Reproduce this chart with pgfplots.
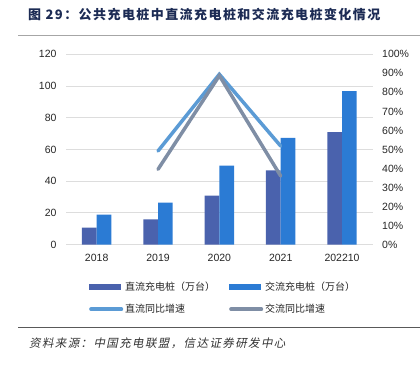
\documentclass[border=0pt]{standalone}
\usepackage{pgfplots}
\pgfplotsset{compat=1.18}
\usepackage{fontspec}
\setmainfont{Liberation Sans}
\newfontfamily\cjk{Noto Sans CJK SC}
\newfontfamily\cjkt{Noto Sans CJK SC}[LetterSpace=11]
\newfontfamily\cjkit{Noto Sans CJK SC}[FakeSlant=0.2,LetterSpace=12]
\definecolor{dcbar}{HTML}{4A62AD}
\definecolor{acbar}{HTML}{2B7BD4}
\definecolor{dcline}{HTML}{5B9BD5}
\definecolor{acline}{HTML}{7F8EA5}
\definecolor{gridc}{HTML}{DDDDDD}
\definecolor{titlec}{HTML}{1C2B54}
\begin{document}
\begin{tikzpicture}
\path[use as bounding box] (0,0) rectangle (420pt,-364pt);
\node[anchor=west, font=\cjkt\bfseries\fontsize{13}{16}\selectfont, text=titlec, inner sep=0] at (28pt,-15pt) {图 29：公共充电桩中直流充电桩和交流充电桩变化情况};
\draw[color=black!35, line width=1.3pt] (18pt,-35.5pt) -- (420pt,-35.5pt);
\draw[color=black!65, line width=1pt] (18pt,-327.3pt) -- (420pt,-327.3pt);
\node[anchor=west, font=\cjkit\fontsize{11.5}{14}\selectfont, text=black!80, inner sep=0] at (29pt,-343pt) {资料来源：中国充电联盟，信达证券研发中心};
\begin{axis}[
  at={(66pt,-244.7pt)}, anchor=south west,
  scale only axis, width=306.7pt, height=190.4pt,
  xmin=-0.5, xmax=4.5, ymin=0, ymax=120,
  ytick={0,20,...,120},
  xtick={0,1,2,3,4}, xticklabels={2018,2019,2020,2021,202210},
  axis line style={draw=none},
  major tick length=0pt,
  ymajorgrids, grid style={gridc, line width=1pt},
  /pgf/number format/assume math mode=true,
  tick label style={font=\fontsize{10.5}{12}\selectfont, text=black!85},
  yticklabel style={xshift=-6pt},
  xticklabel style={yshift=-6pt},
  ybar=0pt, bar width=14.7pt,
  legend columns=2,
  legend style={draw=none, fill=none, inner sep=0pt,
    at={(axis description cs:0.075,-0.185)}, anchor=north west,
    row sep=8pt,
    /tikz/every even column/.append style={column sep=12pt}},
  legend cell align=left,
  legend style={font=\cjk\fontsize{10}{12}\selectfont, text=black!85},
]
\addplot[fill=dcbar, draw=none,
  legend image code/.code={\fill[dcbar] (0pt,-3pt) rectangle (32pt,3pt);}]
  coordinates {(0,10.7) (1,16.0) (2,30.9) (3,46.9) (4,71.0)};
\addlegendentry{直流充电桩（万台）}
\addplot[fill=acbar, draw=none,
  legend image code/.code={\fill[acbar] (0pt,-3pt) rectangle (32pt,3pt);}]
  coordinates {(0,18.9) (1,26.5) (2,49.8) (3,67.4) (4,96.8)};
\addlegendentry{交流充电桩（万台）}
\addlegendimage{legend image code/.code={\draw[dcline, line width=3.5pt, line cap=round] (1.5pt,0pt) -- (32pt,0pt);}}
\addlegendentry{直流同比增速}
\addlegendimage{legend image code/.code={\draw[acline, line width=3.5pt, line cap=round] (1.5pt,0pt) -- (32pt,0pt);}}
\addlegendentry{交流同比增速}
\end{axis}
\begin{axis}[
  at={(66pt,-244.7pt)}, anchor=south west,
  scale only axis, width=306.7pt, height=190.4pt,
  xmin=-0.5, xmax=4.5, ymin=0, ymax=100,
  axis y line*=right, hide x axis,
  axis line style={draw=none},
  major tick length=0pt,
  ytick={0,10,...,100},
  yticklabels={0\%,10\%,20\%,30\%,40\%,50\%,60\%,70\%,80\%,90\%,100\%},
  tick label style={font=\fontsize{10.5}{12}\selectfont, text=black!85},
  yticklabel style={xshift=6pt},
]
\addplot[dcline, line width=3.5pt, line cap=round, line join=miter] coordinates {(1,49.2) (2,89.5) (3,51.8)};
\addplot[acline, line width=3.5pt, line cap=round, line join=miter] coordinates {(1,39.6) (2,88.8) (3,36.1)};
\end{axis}
\end{tikzpicture}
\end{document}
